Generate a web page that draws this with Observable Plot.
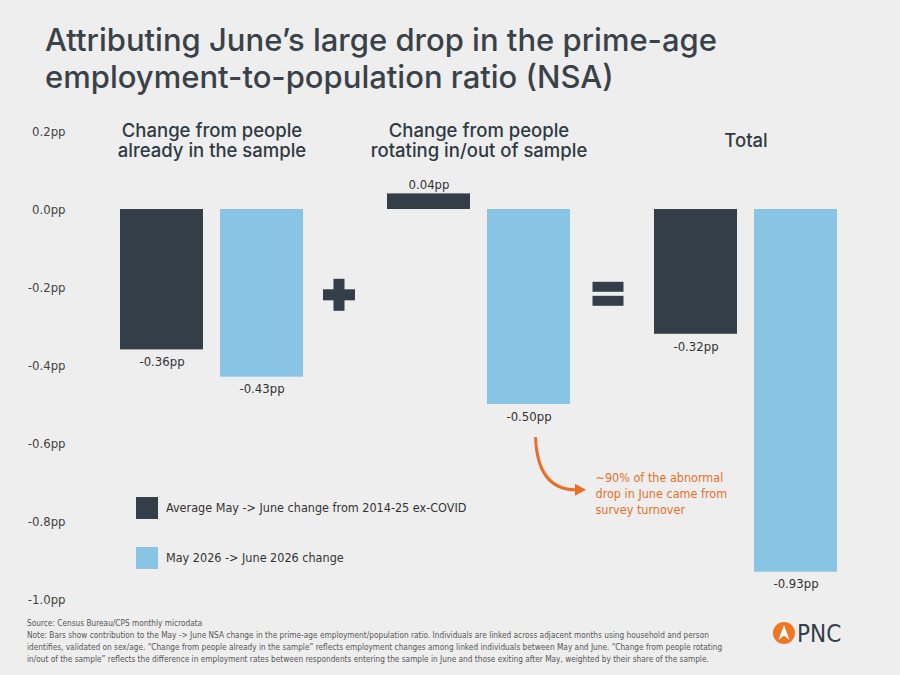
<!DOCTYPE html>
<html><head><meta charset="utf-8">
<script src="https://cdn.jsdelivr.net/npm/d3@7"></script>
<script src="https://cdn.jsdelivr.net/npm/@observablehq/plot@0.6"></script>
<style>
body{margin:0;background:#eeeeee;}
#wrap{position:relative;width:900px;height:675px;background:#eeeeee;overflow:hidden;}
#title{position:absolute;left:45px;top:21px;font-family:Inter,"Open Sans",sans-serif;font-size:31px;font-weight:500;color:#3a4249;line-height:37px;letter-spacing:0px;white-space:nowrap;}
#chart{position:absolute;left:0;top:100px;}
.cond{font-family:"Liberation Sans Narrow","DejaVu Sans Condensed","Roboto Condensed",sans-serif;}
#legend{position:absolute;left:136px;top:497px;font-size:12.5px;color:#333;}
.lg{position:absolute;left:0;width:22px;height:22px;}
.lt{position:absolute;left:30px;white-space:nowrap;line-height:22px;}
#foot{position:absolute;left:27px;top:617px;font-size:9.3px;color:#555;line-height:12px;white-space:nowrap;transform:scaleX(0.885);transform-origin:0 0;}
#logo{position:absolute;left:772px;top:620px;}
</style></head>
<body><div id="wrap">
<div id="title">Attributing June’s large drop in the prime-age<br>employment-to-population ratio (NSA)</div>
<div id="chart"></div>
<div id="legend" class="cond"></div>
<div id="foot" class="cond">Source: Census Bureau/CPS monthly microdata<br>Note: Bars show contribution to the May -&gt; June NSA change in the prime-age employment/population ratio. Individuals are linked across adjacent months using household and person<br>identifies, validated on sex/age. “Change from people already in the sample” reflects employment changes among linked individuals between May and June. “Change from people rotating<br>in/out of the sample” reflects the difference in employment rates between respondents entering the sample in June and those exiting after May, weighted by their share of the sample.</div>
<svg id="logo" width="80" height="28" viewBox="0 0 80 28">
<circle cx="12" cy="13" r="11" fill="#ef7622"/>
<path d="M6.5,20 L12,5 L17.5,20 L12,15.5 Z" fill="#fff"/>
<text x="25" y="22" font-family="Liberation Sans Narrow, DejaVu Sans Condensed, sans-serif" font-size="24" fill="#333e48">PNC</text>
</svg>
</div>
<script>
const groups = ["Change from people\nalready in the sample", "Change from people\nrotating in/out of sample", "Total"];
const series = ["Average May -> June change from 2014-25 ex-COVID", "May 2026 -> June 2026 change"];
const avgValues = [-0.36, 0.04, -0.32];
const recentValues = [-0.43, -0.50, -0.93];
const yTicks = [0.2, 0.0, -0.2, -0.4, -0.6, -0.8, -1.0];
const colors = ["#333e48", "#88c5e5"];
const annotationText = "~90% of the abnormal\ndrop in June came from\nsurvey turnover";

const rows = groups.flatMap((g, i) => [
  {group: g, series: series[0], value: avgValues[i]},
  {group: g, series: series[1], value: recentValues[i]}
]);
const fmt = v => v.toFixed(2) + "pp";
const condFont = '"Liberation Sans Narrow","DejaVu Sans Condensed","Roboto Condensed",sans-serif';
const headFont = 'Inter,"Open Sans",sans-serif';

const plot = Plot.plot({
  width: 900, height: 520,
  marginLeft: 120, marginRight: 63, marginTop: 31, marginBottom: 21,
  style: {background: "transparent", fontFamily: condFont, fontSize: "13px", color: "#444"},
  fx: {domain: groups, paddingInner: 0.3146, paddingOuter: 0, axis: null, label: null, round: false},
  x: {domain: series, paddingInner: 0.17, paddingOuter: 0, axis: null, label: null, round: false},
  y: {domain: [-1.0, 0.2], ticks: yTicks, tickFormat: v => v.toFixed(1) + "pp", tickSize: 0, tickPadding: 55, label: null},
  color: {domain: series, range: colors},
  marks: [
    Plot.barY(rows, {fx: "group", x: "series", y: "value", fill: "series"}),
    Plot.text(rows.filter(d => d.value < 0), {fx: "group", x: "series", y: "value", text: d => fmt(d.value), lineAnchor: "top", dy: 7, fill: "#333", fontSize: 13}),
    Plot.text(rows.filter(d => d.value >= 0), {fx: "group", x: "series", y: "value", text: d => fmt(d.value), lineAnchor: "bottom", dy: -5, fill: "#333", fontSize: 13}),
    Plot.text(groups, {fx: d => d, text: d => d, frameAnchor: "top", dy: 9, lineAnchor: "middle", fontSize: 18.5, fontFamily: headFont, fontWeight: 500, fill: "#2f3a42", lineHeight: 1.1}),
    Plot.text([groups[1]], {fx: d => d, y: () => -0.726, text: () => annotationText, frameAnchor: "right", dx: 25, textAnchor: "start", lineAnchor: "middle", fill: "#e8702a", fontSize: 12.5, lineHeight: 1.3})
  ]
});
document.getElementById("chart").appendChild(plot);

// Legend
const legend = d3.select("#legend");
series.forEach((s, i) => {
  legend.append("div").attr("class", "lg").style("top", (i * 50) + "px").style("background", colors[i]);
  legend.append("div").attr("class", "lt").style("top", (i * 50) + "px").text(s);
});

// Annotation arrow and operators
const fxS = plot.scale("fx"), xS = plot.scale("x"), yS = plot.scale("y");
const svg = d3.select(plot);
const bandLeft = fxS.apply(groups[1]) + xS.apply(series[1]) - xS.range[0];
const cx = bandLeft + xS.bandwidth / 2 + 7;
const y0 = yS.apply(-0.585), y1 = yS.apply(-0.72);
const ex = bandLeft + xS.bandwidth + 6;
svg.append("path")
  .attr("d", `M${cx},${y0} C${cx + 1},${y1 - 25} ${cx + 10},${y1} ${ex},${y1}`)
  .attr("fill", "none").attr("stroke", "#e8702a").attr("stroke-width", 3);
svg.append("path")
  .attr("d", `M${ex - 1},${y1 - 6} L${ex + 10},${y1} L${ex - 1},${y1 + 6} Z`)
  .attr("fill", "#e8702a");

const opY = yS.apply(-0.22);
const gap1 = (fxS.apply(groups[0]) + fxS.bandwidth + fxS.apply(groups[1])) / 2 - 6;
const gap2 = (fxS.apply(groups[1]) + fxS.bandwidth + fxS.apply(groups[2])) / 2 - 4;
const dark = colors[0];
svg.append("rect").attr("x", gap1 - 16).attr("y", opY - 5.5).attr("width", 32).attr("height", 11).attr("fill", dark);
svg.append("rect").attr("x", gap1 - 5.5).attr("y", opY - 16).attr("width", 11).attr("height", 32).attr("fill", dark);
svg.append("rect").attr("x", gap2 - 15.5).attr("y", opY - 13).attr("width", 31).attr("height", 10).attr("fill", dark);
svg.append("rect").attr("x", gap2 - 15.5).attr("y", opY + 1).attr("width", 31).attr("height", 10).attr("fill", dark);
</script>
</body></html>
